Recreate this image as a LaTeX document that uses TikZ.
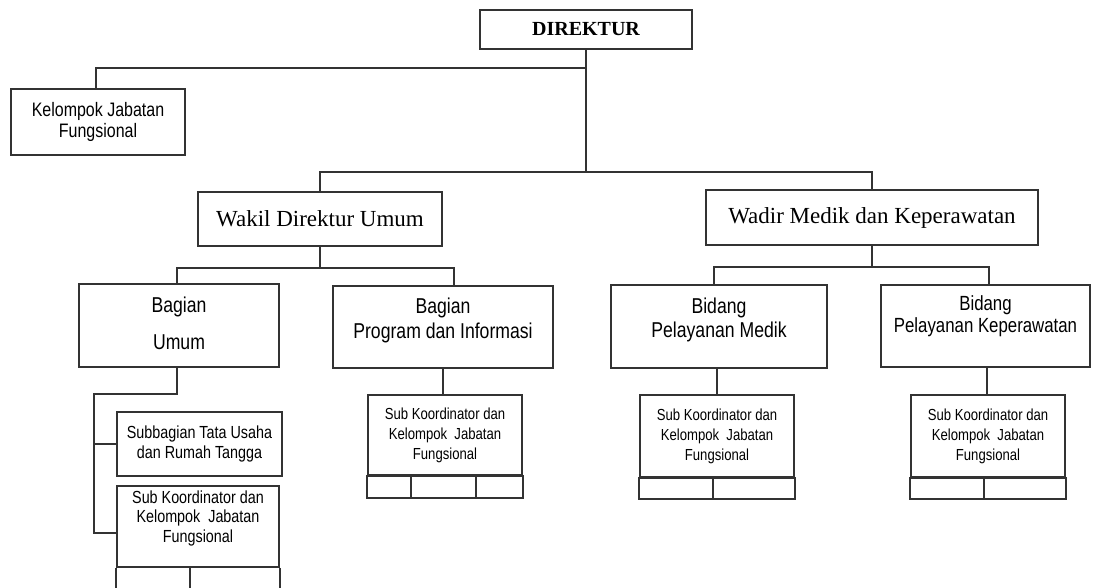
\documentclass[tikz,border=0pt]{standalone}
\usepackage{fontspec}
\setmainfont{Liberation Serif}
\newfontfamily\nar[FakeStretch=0.82]{Liberation Sans}
\begin{document}
\begin{tikzpicture}[x=1pt,y=-1pt,
  ln/.style={line width=1.8pt, draw=black!80},
  box/.style={draw=black!80, line width=1.8pt, rectangle, inner sep=0pt, fill=white, align=center},
  txt/.style={align=center, inner sep=0pt}]
\useasboundingbox (0,0) rectangle (1093,587);
\clip (0,0) rectangle (1093,587);

% top level
\node[box, minimum width=212, minimum height=39, font=\bfseries\fontsize{20}{24}\selectfont] (dir) at (586,29.5) {DIREKTUR};
\node[box, minimum width=174, minimum height=66, font=\nar\fontsize{19.5}{21}\selectfont] (kjf) at (98,122) {Kelompok Jabatan\\Fungsional};

% second level
\node[box, minimum width=244, minimum height=54, font=\fontsize{23}{27}\selectfont] (wakil) at (320,219) {Wakil Direktur Umum};
\node[box, minimum width=332, minimum height=55, font=\fontsize{23}{27}\selectfont] (wadir) at (872,217.5) {Wadir Medik dan Keperawatan};

% third level
\node[box, minimum width=200, minimum height=83] (bu) at (179,325.5) {};
\node[txt, font=\nar\fontsize{21.5}{24}\selectfont] (but) at ([yshift=2pt]bu.center) {Bagian\\[13pt]Umum};
\node[box, minimum width=220, minimum height=82] (bpi) at (443,327) {};
\node[txt, font=\nar\fontsize{21.5}{25}\selectfont] (bpit) at ([yshift=7pt]bpi.center) {Bagian\\Program dan Informasi};
\node[box, minimum width=216, minimum height=83] (bpm) at (719,326.5) {};
\node[txt, font=\nar\fontsize{21.5}{24}\selectfont] (bpmt) at ([yshift=6.5pt]bpm.center) {Bidang\\Pelayanan Medik};
\node[box, minimum width=209, minimum height=82] (bpk) at (985.5,326) {};
\node[txt, font=\nar\fontsize{20.5}{22}\selectfont] (bpkt) at ([yshift=10pt]bpk.center) {Bidang\\Pelayanan Keperawatan};

% fourth level
\node[box, minimum width=165, minimum height=64, font=\nar\fontsize{17.5}{19.5}\selectfont] (stu) at (199.5,444) {Subbagian Tata Usaha\\dan Rumah Tangga};
\node[box, minimum width=162, minimum height=81] (sk1) at (198,526.5) {};
\node[txt, font=\nar\fontsize{17.5}{19.5}\selectfont] (sk1t) at (198,518) {Sub Koordinator dan\\Kelompok~ Jabatan\\Fungsional};
\draw[ln] (sk1.south west) -- ++(0,40);
\draw[ln] (sk1.south east) -- ++(0,40);
\draw[ln] ([xshift=-8pt]sk1.south) -- ++(0,40);

\node[box, minimum width=154, minimum height=80, font=\nar\fontsize{16}{20}\selectfont] (sk2) at (445,435) {Sub Koordinator dan\\Kelompok~ Jabatan\\Fungsional};
\draw[ln] (sk2.south west) rectangle ([yshift=-22pt]sk2.south east);
\draw[ln] ([xshift=44pt]sk2.south west) -- ++(0,22);
\draw[ln] ([xshift=109pt]sk2.south west) -- ++(0,22);

\node[box, minimum width=154, minimum height=82, font=\nar\fontsize{16}{20}\selectfont] (sk3) at (717,436) {Sub Koordinator dan\\Kelompok~ Jabatan\\Fungsional};
\draw[ln] (sk3.south west) rectangle ([yshift=-21pt]sk3.south east);
\draw[ln] ([xshift=74pt]sk3.south west) -- ++(0,21);

\node[box, minimum width=154, minimum height=82, font=\nar\fontsize{16}{20}\selectfont] (sk4) at (988,436) {Sub Koordinator dan\\Kelompok~ Jabatan\\Fungsional};
\draw[ln] (sk4.south west) rectangle ([yshift=-21pt]sk4.south east);
\draw[ln] ([xshift=74pt]sk4.south west) -- ++(0,21);

% connectors
\coordinate (t1) at (586,68);
\coordinate (t2) at (586,172);
\draw[ln] (dir.south) -- (t2);
\draw[ln] (t1) -| ([xshift=-2pt]kjf.north);
\draw[ln] (wakil.north) |- (t2) -| (wadir.north);

\coordinate (w1) at (320,268);
\draw[ln] (wakil.south) -- (w1);
\draw[ln] ([xshift=-2pt]bu.north) |- (w1) -| ([xshift=11pt]bpi.north);

\coordinate (w2) at (872,267);
\draw[ln] (wadir.south) -- (w2);
\draw[ln] ([xshift=-5pt]bpm.north) |- (w2) -| ([xshift=3.5pt]bpk.north);

\coordinate (u1) at (94,394);
\draw[ln] ([xshift=-2pt]bu.south) |- (u1) |- (stu.west);
\draw[ln] (u1) |- ([yshift=-6.5pt]sk1.west);

\draw[ln] (bpi.south) -- (bpi.south |- sk2.north);
\draw[ln] (sk3.north |- bpm.south) -- (sk3.north);
\draw[ln] ([xshift=-1pt]sk4.north |- bpk.south) -- ([xshift=-1pt]sk4.north);
\end{tikzpicture}
\end{document}
